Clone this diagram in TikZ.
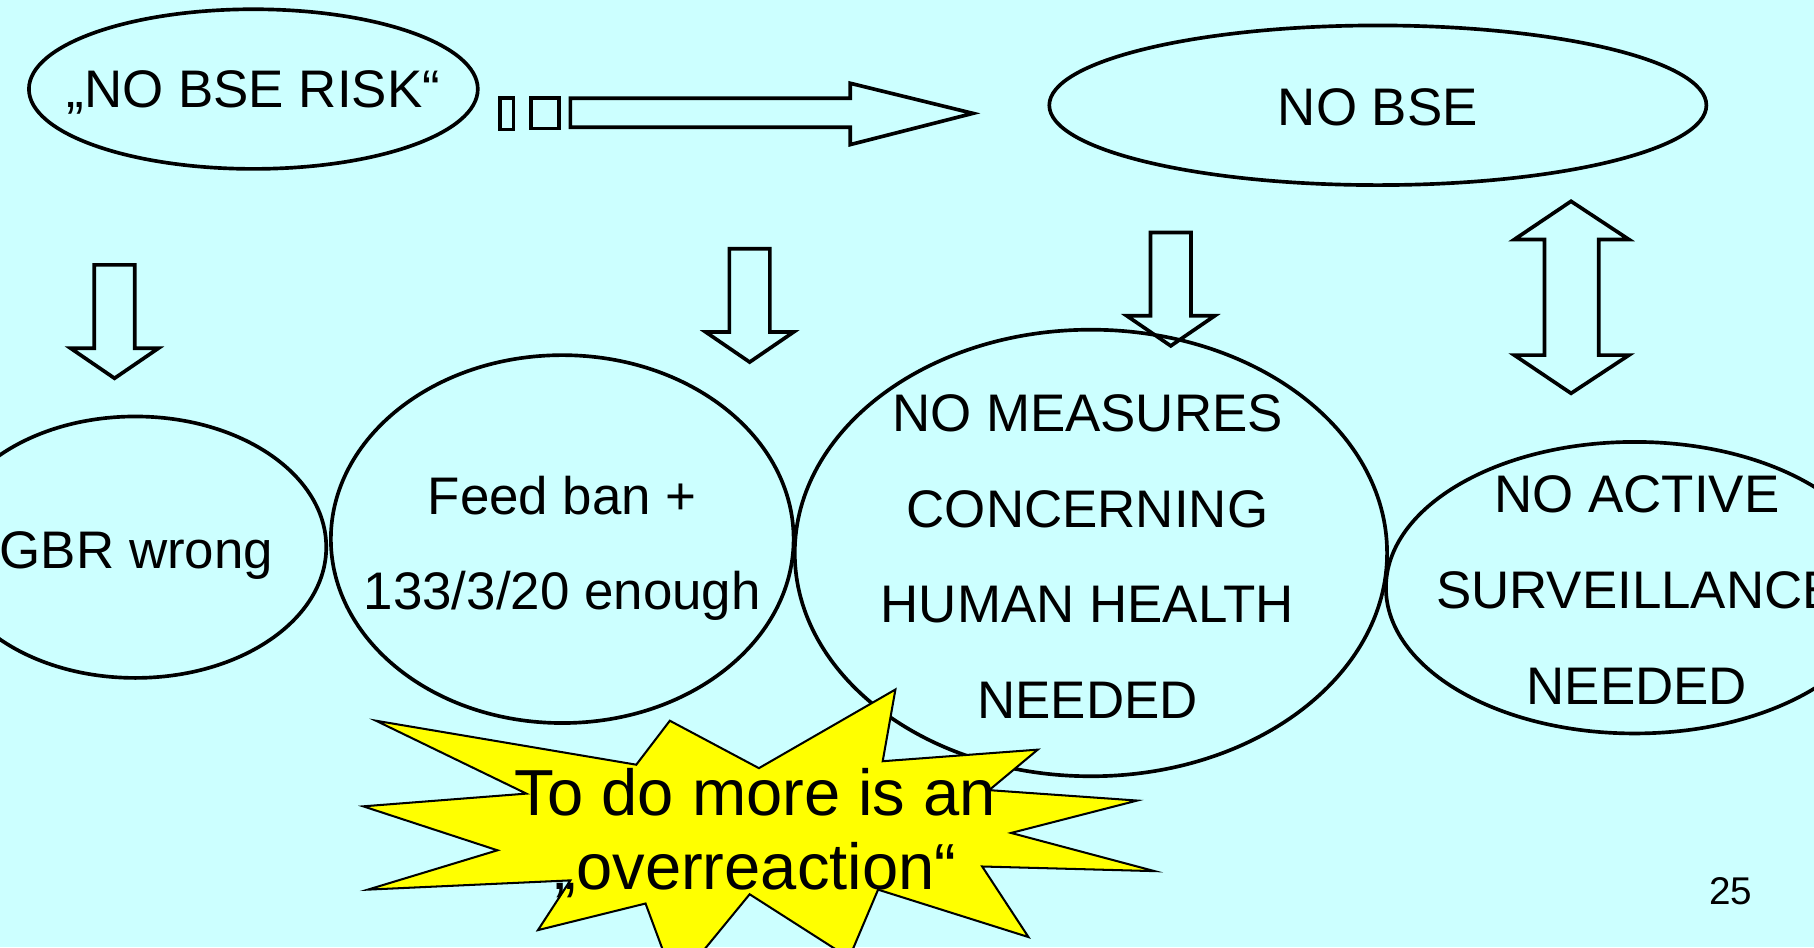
\documentclass[tikz,border=0pt]{standalone}
\usepackage{fontspec}
\setmainfont{Liberation Sans}
\usepackage{tikz}
\usetikzlibrary{positioning}
\definecolor{slidecyan}{RGB}{204,255,255}
\definecolor{burstyellow}{RGB}{255,255,0}
\tikzstyle{bubble} = [draw=black, line width=0.9pt]
\tikzstyle{blockarrow} = [draw=black, line width=0.9pt, line join=miter]
\tikzstyle{bubbletext} = [font=\fontsize{13}{23.5}\selectfont, align=center, inner sep=0pt]
\tikzstyle{bursttext} = [font=\fontsize{16}{18.2}\selectfont, align=center, inner sep=0pt]

\begin{document}
\begin{tikzpicture}[x=0.01cm, y=-0.01cm]
    % Slide background
    \fill[slidecyan] (0,0) rectangle (1568,819);
    \useasboundingbox (0,0) rectangle (1568,819);
    \clip (0,0) rectangle (1568,819);

    % Top row
    \draw[bubble] (219,77) ellipse (194 and 69);
    \node[bubbletext] (norisk) at (219,80) {„NO BSE RISK“};
    \draw[bubble] (1191,91) ellipse (284 and 69);
    \node[bubbletext] (nobse) at (1191,93) {NO BSE};

    % Arrow from risk to no BSE
    \draw[blockarrow] (432,85) rectangle (444,112);
    \draw[blockarrow] (459,85) rectangle (483,111);
    \draw[blockarrow] (493,85) -- (735,85) -- (735,72) -- (841,98) -- (735,125) -- (735,110) -- (493,110) -- cycle;

    % Down arrows
    \foreach \cx/\ty in {99/229, 648/215, 1012/201}
        \draw[blockarrow] (\cx-17.5,\ty) -- (\cx+17.5,\ty) -- (\cx+17.5,\ty+72) -- (\cx+38,\ty+72)
            -- (\cx,\ty+98) -- (\cx-38,\ty+72) -- (\cx-17.5,\ty+72) -- cycle;

    % Up-down arrow
    \draw[blockarrow] (1358,174) -- (1408,207) -- (1382,207) -- (1382,307) -- (1408,307) -- (1358,340)
        -- (1309,307) -- (1335,307) -- (1335,207) -- (1309,207) -- cycle;

    % Bottom row
    \draw[bubble] (117,473) ellipse (165 and 113);
    \node[bubbletext] (gbr) at (118,480) {GBR wrong};
    \draw[bubble] (486,466) ellipse (200 and 159);
    \node[bubbletext] (feedban) at (486,474) {Feed ban +\\133/3/20 enough};
    \draw[bubble] (943,478) ellipse (256 and 193);
    \node[bubbletext] (measures) at (940,481) {NO MEASURES\\CONCERNING\\HUMAN HEALTH\\NEEDED};
    \draw[bubble] (1413,508) ellipse (215 and 126);
    \node[bubbletext] (surveil) at (1415,510) {NO ACTIVE\\SURVEILLANCE\\NEEDED};

    % Starburst
    \draw[fill=burstyellow, line width=0.5pt, line join=miter] (325,623) -- (455,686) -- (314,697) -- (430,735)
        -- (318,769) -- (493,761) -- (465,804) -- (558,781) -- (584,851) -- (648,773) -- (734,828)
        -- (759,769) -- (889,810) -- (849,749) -- (998,753) -- (874,720) -- (983,692) -- (855,683)
        -- (897,648) -- (763,658) -- (774,596) -- (656,664) -- (579,623) -- (550,661) -- cycle;
    \node[bursttext] (overreact) at (653,720) {To do more is an\\„overreaction“};

    % Page number
    \node[font=\fontsize{9.5}{11}\selectfont, inner sep=0pt] (pagenum) at (1496,770) {25};
\end{tikzpicture}
\end{document}
